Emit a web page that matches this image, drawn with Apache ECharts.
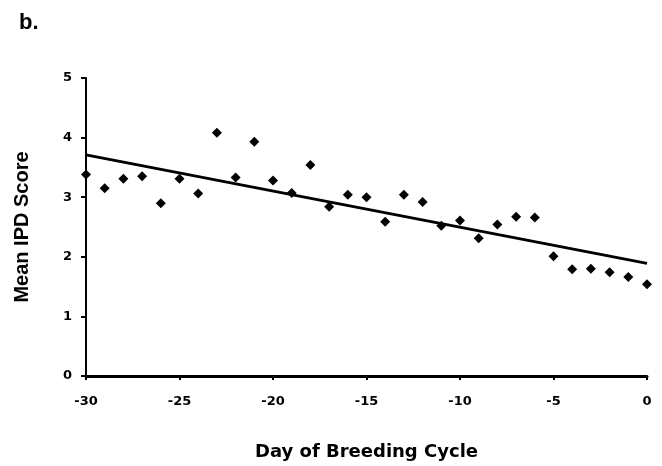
<!DOCTYPE html>
<html>
<head>
<meta charset="utf-8">
<script src="https://cdn.jsdelivr.net/npm/echarts@6/dist/echarts.min.js"></script>
<style>html,body{margin:0;padding:0;background:#fff}#c{width:662px;height:466px}</style>
</head>
<body>
<div id="c"></div>
<script>
var days = [-30,-29,-28,-27,-26,-25,-24,-23,-22,-21,-20,-19,-18,-17,-16,-15,-14,-13,-12,-11,-10,-9,-8,-7,-6,-5,-4,-3,-2,-1,0];
var scores = [3.38,3.15,3.31,3.35,2.90,3.31,3.06,4.08,3.33,3.93,3.28,3.07,3.54,2.84,3.04,3.00,2.59,3.04,2.92,2.52,2.61,2.31,2.54,2.67,2.66,2.01,1.79,1.80,1.74,1.66,1.54];
var trendX = [-30, 0];
var trendY = [3.71, 1.89];
var xTicks = [-30,-25,-20,-15,-10,-5,0];
var yTicks = [0,1,2,3,4,5];

var arial = '"Liberation Sans", Arial, sans-serif';
var wide = '"DejaVu Sans", sans-serif';
var chart = echarts.init(document.getElementById('c'), null, {renderer:'canvas'});
chart.setOption({
  animation: false,
  backgroundColor: '#fff',
  title: {text: 'b.', left: 14, top: 7, textStyle: {fontFamily: arial, fontWeight: 'bold', fontSize: 22, color: '#000'}},
  grid: {left: 86, right: 15, top: 78, bottom: 88},
  xAxis: {
    type: 'value', min: -30, max: 0, interval: 5,
    name: 'Day of Breeding Cycle', nameLocation: 'middle', nameGap: 67,
    nameTextStyle: {fontFamily: wide, fontWeight: 'bold', fontSize: 18, color: '#000'},
    axisLine: {show: true, onZero: false, lineStyle: {color: '#000', width: 3}},
    axisTick: {show: true, length: 4, lineStyle: {color: '#000', width: 2}},
    axisLabel: {fontFamily: wide, fontWeight: 'bold', fontSize: 13, color: '#000', margin: 19,
      formatter: function(v){ return xTicks.indexOf(v) >= 0 ? String(v) : ''; }},
    splitLine: {show: false}
  },
  yAxis: {
    type: 'value', min: 0, max: 5, interval: 1,
    name: 'Mean IPD Score', nameLocation: 'middle', nameGap: 54,
    nameTextStyle: {fontFamily: arial, fontWeight: 'bold', fontSize: 20, color: '#000'},
    axisLine: {show: true, onZero: false, lineStyle: {color: '#000', width: 2}},
    axisTick: {show: true, length: 5, lineStyle: {color: '#000', width: 2}},
    axisLabel: {fontFamily: wide, fontWeight: 'bold', fontSize: 13, color: '#000', margin: 14,
      formatter: function(v){ return yTicks.indexOf(v) >= 0 ? String(v) : ''; }},
    splitLine: {show: false}
  },
  series: [
    {
      type: 'line', data: trendX.map(function(x,i){return [x, trendY[i]];}),
      symbol: 'none', lineStyle: {color: '#000', width: 3}, z: 2
    },
    {
      type: 'scatter', data: days.map(function(d,i){return [d, scores[i]];}),
      symbol: 'diamond', symbolSize: 10, itemStyle: {color: '#000', opacity: 1}, z: 3
    }
  ]
});
</script>
</body>
</html>
